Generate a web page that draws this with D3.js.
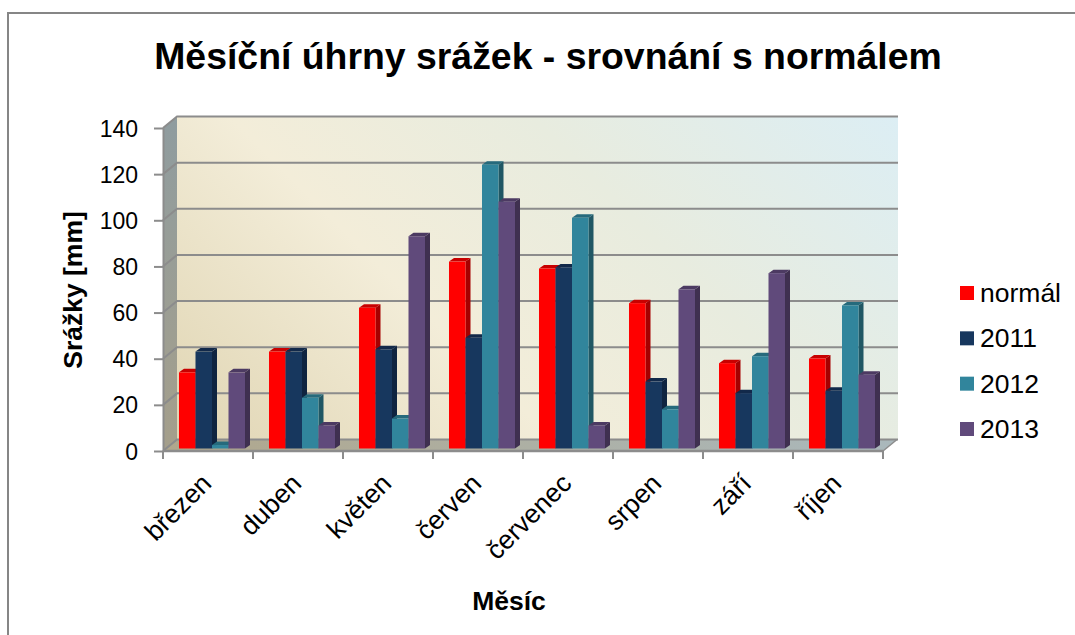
<!DOCTYPE html>
<html><head><meta charset="utf-8">
<script src="https://cdn.jsdelivr.net/npm/d3@7"></script>
<style>html,body{margin:0;padding:0;background:#fff}svg{display:block}text{font-family:"Liberation Sans",Arial,sans-serif;fill:#000}</style>
</head><body><svg id="c" width="1075" height="635"></svg>
<script>
const categories=["březen","duben","květen","červen","červenec","srpen","září","říjen"];
const seriesNames=["normál","2011","2012","2013"];
const normal=[33,42,61,81,78,63,37,39];
const y2011=[42,42,43,48,78.5,29,24,25];
const y2012=[1.5,22,13,123,100,17,40,62];
const y2013=[33,10,92,107,10,69,76,32];
const seriesValues=[normal,y2011,y2012,y2013];
const yTicks=[0,20,40,60,80,100,120,140];
const frontColors=["#ff0000","#17375e","#31859c","#604a7b"];
const sideColors=["#a60000","#0f2440","#205764","#3f3050"];
const topColors=["#c80000","#12294a","#266a7c","#4c3a62"];

const svg=d3.select("#c");
const defs=svg.append("defs");
const wg=defs.append("linearGradient").attr("id","wall").attr("gradientUnits","userSpaceOnUse")
 .attr("x1",276).attr("y1",539).attr("x2",798).attr("y2",17);
[[0,"#e0d5b3"],[0.36,"#f3edd9"],[0.65,"#e8ecdf"],[1,"#dceef4"]].forEach(s=>wg.append("stop").attr("offset",s[0]).attr("stop-color",s[1]));
const sg=defs.append("linearGradient").attr("id","side").attr("x1",0).attr("x2",0).attr("y1",1).attr("y2",0);
[[0,"#a59f8b"],[1,"#8f9c9f"]].forEach(s=>sg.append("stop").attr("offset",s[0]).attr("stop-color",s[1]));
const fg=defs.append("linearGradient").attr("id","floor").attr("x1",0).attr("x2",1).attr("y1",0).attr("y2",0);
[[0,"#b0a78c"],[1,"#aab8bc"]].forEach(s=>fg.append("stop").attr("offset",s[0]).attr("stop-color",s[1]));

svg.append("path").attr("d","M8,635V13H1075").attr("fill","none").attr("stroke","#868686").attr("stroke-width",2);

const x0=163,x1=883,yF0=451,yF1=128,dx=14,dy=-11.5;
const x=d3.scaleBand().domain(categories).range([x0,x1]);
const y=d3.scaleLinear().domain([0,140]).range([yF0,yF1]);
const grid="#8c8c8c";
svg.append("rect").attr("x",x0+dx).attr("y",yF1+dy).attr("width",x1-x0+1).attr("height",yF0-yF1).attr("fill","url(#wall)");
svg.append("path").attr("d",`M${x0},${yF0}L${x0+dx},${yF0+dy}V${yF1+dy}L${x0},${yF1}Z`).attr("fill","url(#side)");
svg.append("path").attr("d",`M${x0},${yF0}L${x0+dx},${yF0+dy}H${x1+dx}L${x1},${yF0}Z`).attr("fill","url(#floor)");
yTicks.forEach(t=>{
 svg.append("path").attr("d",`M${x0},${y(t)}L${x0+dx},${y(t)+dy}H${x1+dx+1}`).attr("fill","none").attr("stroke",grid).attr("stroke-width",2);
});
svg.append("path").attr("d",`M${x1},${yF0}L${x1+dx},${yF0+dy}`).attr("stroke",grid).attr("stroke-width",1.5);
const gy=svg.append("g").attr("transform",`translate(${x0},0)`).call(d3.axisLeft(y).tickValues(yTicks).tickSize(9).tickPadding(16).tickSizeOuter(0));
gy.selectAll("path").attr("stroke",grid).attr("stroke-width",2);
gy.selectAll("line").attr("stroke",grid).attr("stroke-width",2);
gy.selectAll("text").attr("font-size",23).attr("font-family","Lato").attr("fill","#000").attr("dy","0.35em");
const gx=svg.append("g").attr("transform",`translate(0,${yF0})`);
gx.append("path").attr("d",`M${x0},0H${x1}`).attr("stroke",grid).attr("stroke-width",2.5);
[...categories.map(c=>x(c)),x1].forEach(p=>gx.append("path").attr("d",`M${p},0V8`).attr("stroke",grid).attr("stroke-width",2));
categories.forEach(c=>{
 svg.append("text").attr("transform",`translate(${x(c)+x.bandwidth()/2+5},485) rotate(-45)`).attr("text-anchor","end").attr("font-size",26.5).text(c);
});
const bx=4,by=-2.5,ddx=5,ddy=-3.5;
const bar=d3.scaleBand().domain(d3.range(4)).range([0,x.bandwidth()]).paddingOuter(0.727).paddingInner(0);
categories.forEach((c,ci)=>{
 [0,1,2,3].forEach(si=>{
  const v=seriesValues[si][ci];
  const w=bar.bandwidth();
  const L=x(c)+bar(si)+bx,R=L+w,B=yF0+by,T=y(v)+by;
  const s=svg.append("g");
  s.append("path").attr("d",`M${R},${B}L${R+ddx},${B+ddy}V${T+ddy}L${R},${T}Z`).attr("fill",sideColors[si]);
  s.append("path").attr("d",`M${L},${T}L${L+ddx},${T+ddy}H${R+ddx}L${R},${T}Z`).attr("fill",topColors[si]);
  s.append("rect").attr("x",L).attr("y",T).attr("width",w).attr("height",B-T).attr("fill",frontColors[si]);
 });
});
svg.append("text").attr("x",548).attr("y",69).attr("text-anchor","middle").attr("font-size",37.4).attr("font-weight","bold").text("Měsíční úhrny srážek - srovnání s normálem");
svg.append("text").attr("transform","translate(82,290) rotate(-90)").attr("text-anchor","middle").attr("font-size",26.5).attr("font-weight","bold").text("Srážky [mm]");
svg.append("text").attr("x",509).attr("y",610).attr("text-anchor","middle").attr("font-size",26.5).attr("font-weight","bold").text("Měsíc");
const ly=d3.scalePoint().domain(seriesNames).range([293,429]);
seriesNames.forEach((n,i)=>{
 svg.append("rect").attr("x",960).attr("y",ly(n)-7).attr("width",14).attr("height",14).attr("fill",frontColors[i]);
 svg.append("text").attr("x",980).attr("y",ly(n)+9).attr("font-size",26.5).text(n);
});
</script></body></html>
